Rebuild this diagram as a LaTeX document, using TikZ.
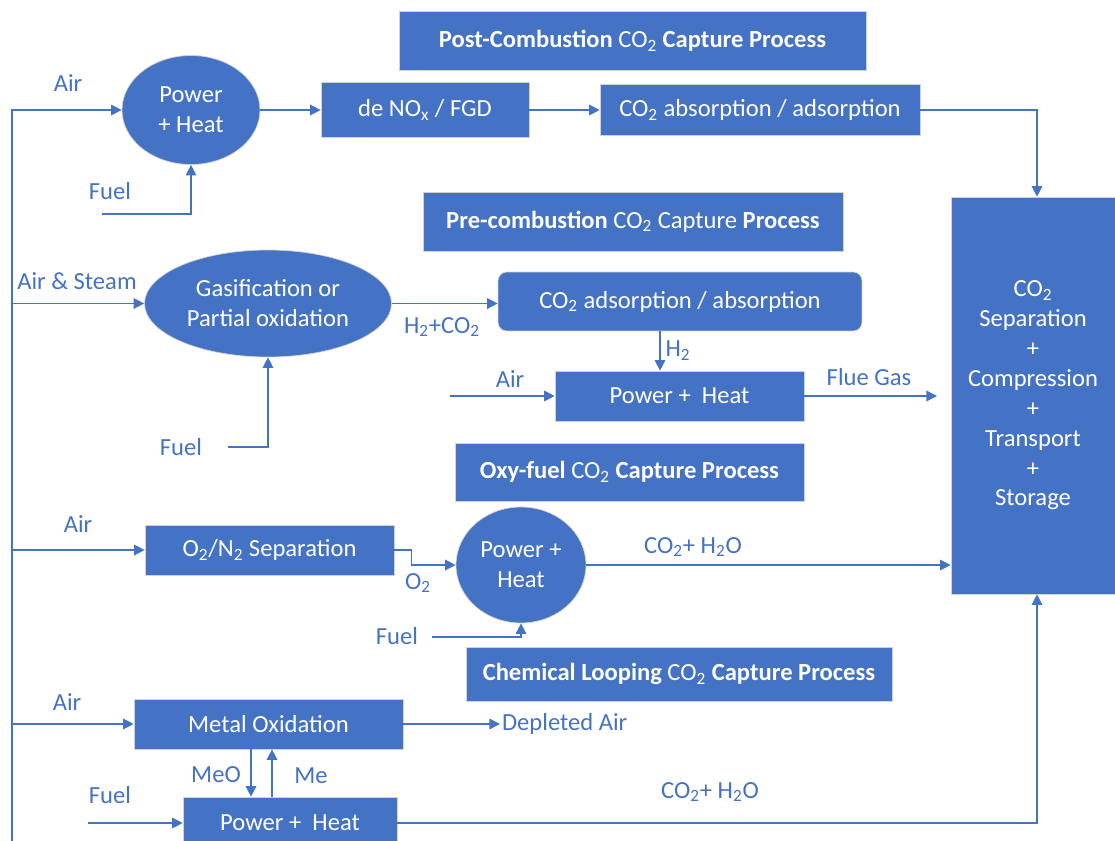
\documentclass[tikz,border=0pt]{standalone}
\usepackage{fontspec}
\setmainfont{Carlito}
\usetikzlibrary{arrows.meta,shapes.geometric}
\definecolor{ofblue}{HTML}{4472C4}

\begin{document}
\begin{tikzpicture}[x=0.02cm, y=-0.02cm,
		font=\fontsize{14}{17}\selectfont]
\useasboundingbox (0,0) rectangle (1115,841);

% Cajas
\begin{scope}[
		every node/.style = {shape = rectangle, fill = ofblue,
		draw = gray!35, text = white, align = center, inner sep = 0pt}]
	\node[minimum width=9.34cm, minimum height=1.18cm] (post) at (632.5,40.5)
		{\textbf{Post-Combustion} CO\textsubscript{2} \textbf{Capture Process}};
	\node[minimum width=4.16cm, minimum height=1.1cm] (denox) at (425,110)
		{de NO\textsubscript{x} / FGD};
	\node[minimum width=6.4cm, minimum height=1.02cm] (abs1) at (760,110)
		{CO\textsubscript{2} absorption / adsorption};
	\node[minimum width=3.28cm, minimum height=7.94cm] (ccs) at (1033,395.5)
		{CO\textsubscript{2}\\Separation\\+\\Compression\\+\\Transport\\+\\Storage};
	\node[minimum width=8.4cm, minimum height=1.18cm] (pre) at (633,221.5)
		{\textbf{Pre-combustion} CO\textsubscript{2} Capture \textbf{Process}};
	\node[minimum width=7.28cm, minimum height=1.18cm, rounded corners=5pt] (abs2) at (680,301.5)
		{CO\textsubscript{2} adsorption / absorption};
	\node[minimum width=4.98cm, minimum height=1cm] (pwr2) at (679.5,396)
		{Power +\ \ Heat};
	\node[minimum width=6.98cm, minimum height=1.16cm] (oxy) at (629.5,472)
		{\textbf{Oxy-fuel} CO\textsubscript{2} \textbf{Capture Process}};
	\node[minimum width=4.98cm, minimum height=1cm] (sep) at (269.5,550)
		{O\textsubscript{2}/N\textsubscript{2} Separation};
	\node[minimum width=8.52cm, minimum height=1.08cm] (chem) at (679,674)
		{\textbf{Chemical Looping} CO\textsubscript{2} \textbf{Capture Process}};
	\node[minimum width=5.38cm, minimum height=1cm] (metox) at (268.5,724)
		{Metal Oxidation};
	\node[minimum width=4.28cm, minimum height=1.04cm] (pwr4) at (290,823)
		{Power +\ \ Heat};
	% elipses
	\node[ellipse, minimum width=2.76cm, minimum height=2.18cm] (pwr1) at (191,110)
		{Power\\+ Heat};
	\node[ellipse, minimum width=4.94cm, minimum height=2.14cm] (gasif) at (268,303.5)
		{Gasification or\\Partial oxidation};
	\node[ellipse, minimum width=2.6cm, minimum height=2.32cm] (pwr3) at (521,565)
		{Power +\\Heat};
\end{scope}

% Textos
\begin{scope}[
		every node/.style = {text = ofblue, inner sep = 1pt}]
	\node (air1) at (68,83) {Air};
	\node (fuel1t) at (110,191) {Fuel};
	\node (air2) at (77,281) {Air \& Steam};
	\node (fuel2t) at (181,447) {Fuel};
	\node (h2co2) at (442,327) {H\textsubscript{2}+CO\textsubscript{2}};
	\node (h2) at (678,351) {H\textsubscript{2}};
	\node (air3) at (510,379) {Air};
	\node (flue) at (869,377) {Flue Gas};
	\node (air4) at (78,524) {Air};
	\node (o2) at (418,583) {O\textsubscript{2}};
	\node (prod1) at (693,547) {CO\textsubscript{2}+ H\textsubscript{2}O};
	\node (fuel3t) at (397,636) {Fuel};
	\node (air5) at (67,702) {Air};
	\node[anchor=west] (depl) at (500,724) {Depleted Air};
	\node (meo) at (216,775) {MeO};
	\node (me) at (311,776) {Me};
	\node (fuel4t) at (110,795) {Fuel};
	\node (prod2) at (710,792) {CO\textsubscript{2}+ H\textsubscript{2}O};
\end{scope}

% Puntos libres
\coordinate (bus) at (12,841);
\coordinate (fuel1) at (102,214);
\coordinate (fuel2) at (228,447);
\coordinate (air3in) at (450,396);
\coordinate (flueout) at (937,396);
\coordinate (fuel3) at (432,637);
\coordinate (fuel4) at (88,823);

% Flechas
\begin{scope}[
		every path/.style = {draw = ofblue, line width = 0.8pt,
		-{Triangle[length=6pt, width=6pt]}}]
	\path (bus) |- (pwr1.west);
	\path (gasif.west -| bus) -- (gasif.west);
	\path (sep.west -| bus) -- (sep.west);
	\path (metox.west -| bus) -- (metox.west);
	\path (fuel1) -| (pwr1.south);
	\path (pwr1.east) -- (denox.west);
	\path (denox.east) -- (abs1.west);
	\path (abs1.east) -| ([xshift=0.08cm]ccs.north);
	\path (fuel2) -| (gasif.south);
	\path (gasif.east) -- (gasif.east -| abs2.west);
	\path ([xshift=-0.4cm]abs2.south) -- ([xshift=-0.4cm]abs2.south |- pwr2.north);
	\path (air3in) -- (pwr2.west);
	\path (pwr2.east) -- (flueout);
	\path (sep.east) -- ++(17,0) |- (pwr3.west);
	\path (pwr3.east) -- (pwr3.east -| ccs.west);
	\path (fuel3) -| (pwr3.south);
	\path (metox.east) -- (depl.west);
	\path ([xshift=-0.35cm]metox.south) -- ([xshift=-0.35cm]metox.south |- pwr4.north);
	\path ([xshift=0.07cm]metox.south |- pwr4.north) -- ([xshift=0.07cm]metox.south);
	\path (fuel4) -- (pwr4.west);
	\path (pwr4.east) -| ([xshift=0.08cm]ccs.south);
\end{scope}
\end{tikzpicture}
\end{document}
